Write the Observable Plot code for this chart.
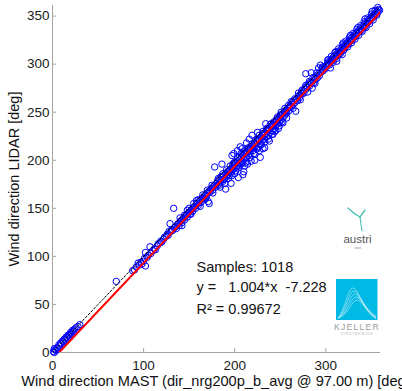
<!DOCTYPE html>
<html><head><meta charset="utf-8">
<script src="https://cdn.jsdelivr.net/npm/d3@7"></script>
<script src="https://cdn.jsdelivr.net/npm/@observablehq/plot@0.6"></script>
<style>
html,body{margin:0;padding:0;background:#fff;}
#wrap{position:relative;width:402px;height:391px;overflow:hidden;}
#logos{position:absolute;left:0;top:0;pointer-events:none;}
</style></head><body><div id="wrap"></div>
<script>
// Axis setup
const xDomain = [0, 360];
const yDomain = [0, 361];
const xTicks = [0, 100, 200, 300];
const yTicks = [0, 50, 100, 150, 200, 250, 300, 350];
const xLabel = "Wind direction MAST (dir_nrg200p_b_avg @ 97.00 m) [deg]";
const yLabel = "Wind direction LIDAR [deg]";

// Regression (from the annotation)
const fitSlope = 1.004;
const fitIntercept = -7.228;
const lineX = [0, 360];
const statLines = ["Samples: 1018", "y =\u00a0\u00a0\u00a01.004*x\u00a0\u00a0-7.228", "R\u00b2 = 0.99672"];

// Samples: [MAST, LIDAR]
const samples = [
[1,1],[2,0],[3,3],[2,4],[4,2],[5,5],[6,4],[7,8],[8,7],[9,10],[10,9],[11,12],[12,11],[13,14],[14,13],[15,16],[16,15],[17,18],[18,17],[19,19],[20,21],[21,20],[22,23],[23,22],[24,24],[26,26],[28,27],[30,29],
[70,74],
[88,85],[90,86],[92,89],[94,93],[95,91],[97,94],[98,92],[100,95],[101,98],[102,90],[102,104],[104,99],[105,101],[107,110],[108,103],[110,106],[112,108],[113,107],[115,111],[116,113],[118,114],[119,116],[120,115],[122,118],[123,120],[125,121],[126,123],[127,122],[129,134],[128,126],[130,126],
[131,128],[132,127],[133,150],[134,130],[135,131],[136,129],[137,133],[138,134],[139,132],[140,136],[141,137],[142,135],[143,139],[144,140],[145,138],[146,142],[147,143],[148,141],[149,145],[150,146],[151,144],[152,148],[153,149],[154,147],[155,151],[156,152],[157,150],[158,154],[159,155],[160,153],[161,157],[162,158],[163,156],[164,160],[165,161],[166,159],[167,163],[168,164],[169,162],[170,166],[171,157],[172,155],[172,168],[173,167],[174,170],[175,171],[176,169],[177,173],[178,174],[178,193],[179,172],[180,176],
[140,140],[145,143],[150,150],[155,155],[160,159],[165,164],[170,169],[175,174],[142,132],[152,144],[162,152],[168,160],[176,166],[148,148],[158,158],
[181,178],[182,175],[183,180],[184,177],[185,179],[186,183],[187,178],[188,184],[189,181],[190,170],[190,186],[191,183],[192,185],[193,188],[194,184],[195,190],[196,187],[197,205],[197,189],[198,193],[199,191],[200,195],[200,186],[201,197],[202,193],[203,199],[204,192],[205,200],[206,196],[207,203],[208,199],[209,185],[209,205],[210,188],[210,201],[211,207],[212,203],[213,198],[214,209],[215,205],[216,210],[217,207],[218,199],[219,213],[220,210],[221,214],[222,206],[223,217],[224,213],[225,219],[226,214],[227,221],[228,203],[228,217],[229,223],[230,220],[231,212],[232,226],[233,222],[234,228],[235,224],[236,230],[237,226],[238,233],[239,229],[240,234],[241,231],[242,237],[243,233],[244,239],[245,236],[246,241],[247,238],[248,233],[248,243],[249,240],[250,245],[251,242],[252,248],[253,244],[254,250],[255,247],[256,252],[257,249],[258,254],[259,251],[260,255],
[185,183],[192,188],[198,196],[203,195],[207,197],[212,209],[217,212],[222,218],[226,222],[231,228],[236,233],[241,236],[246,243],[251,247],[256,250],[188,180],[194,189],[200,198],[205,203],[210,206],[215,212],[220,215],[225,222],[230,226],[235,231],[240,238],[245,240],[250,247],[255,251],[196,176],[204,182],[214,196],[222,200],[238,220],[242,227],[186,196],[199,207],[206,214],[213,218],[225,229],[234,238],
[182,181],[184,172],[187,186],[189,176],[191,190],[193,181],[195,194],[197,184],[199,197],[201,189],[203,203],[205,194],[207,207],[209,197],[211,210],[213,203],[215,213],[217,203],[219,217],[221,207],[223,221],[225,212],[227,226],[229,216],[231,230],[233,219],[235,233],[237,222],[239,237],[241,227],[243,240],[245,231],[247,245],[249,236],[251,250],[253,239],[255,254],[257,244],[259,257],[183,174],[216,222],[219,226],[227,210],[233,213],[208,212],[211,194],[203,210],[244,230],[252,240],
[261,257],[262,256],[263,260],[264,258],[265,262],[266,260],[267,251],[268,264],[269,262],[270,267],[271,265],[272,268],[273,270],[274,269],[275,272],[276,270],[277,275],[278,290],[278,274],[279,277],[280,276],[281,279],[282,277],[283,281],[284,280],[285,275],[286,283],[287,281],[288,286],[289,284],[290,288],[291,286],[292,290],[293,288],[294,299],[295,292],[296,295],[297,293],[298,297],[299,295],[300,298],
[262,261],[266,264],[270,270],[274,273],[278,278],[282,282],[286,286],[290,291],[264,254],[272,263],[280,271],[288,280],[296,297],[284,291],[292,296],
[301,299],[302,301],[303,300],[304,303],[305,302],[306,305],[307,304],[308,307],[309,305],[310,309],[311,308],[312,311],[313,309],[314,313],[315,312],[316,315],[317,313],[318,317],[319,316],[320,319],[321,317],[322,321],[323,320],[324,323],[325,321],[326,325],[327,324],[328,327],[329,325],[330,329],[331,328],[332,331],[333,329],[334,333],[335,332],[336,335],[337,334],[338,337],[339,335],[340,339],[341,338],[342,341],[343,339],[344,343],[345,342],[346,345],[347,344],[348,347],[349,346],[350,349],[351,348],[352,351],[353,350],[354,353],[355,352],[356,355],[357,354],[358,357],[359,356],
[305,296],[312,303],[318,310],
[302,304],[306,308],[310,312],[314,316],[318,320],[322,324],[326,328],[330,332],[334,336],[338,340],[342,344],[346,348],[350,352],[354,356],[357,359],[304,299],[308,302],[312,306],[316,311],[320,315],[324,318],[328,322],[332,326],[336,330],[340,334],[344,338],[348,342],[352,346],[356,351],[303,305],[311,313],[319,322],[327,330],[335,338],[343,347],[351,355]
];

const W = 402, H = 391, mL = 52, mR = 22, mT = 5, mB = 39;
const plotW = W - mL - mR, plotH = H - mT - mB;
const font = "'Liberation Sans', Arial, Helvetica, sans-serif";
const axisGray = "#a3a3a3";

const chart = Plot.plot({
  width: W, height: H,
  marginLeft: mL, marginRight: mR, marginTop: mT, marginBottom: mB,
  style: {fontFamily: font, fontSize: "13.5px", color: "#1a1a1a", background: "#fff", overflow: "visible"},
  x: {domain: xDomain},
  y: {domain: yDomain},
  marks: [
    Plot.ruleX([0], {stroke: axisGray}),
    Plot.ruleY([0], {stroke: axisGray}),
    Plot.tickX(xTicks, {x: d => d, insetTop: plotH - 4, stroke: axisGray}),
    Plot.tickY(yTicks, {y: d => d, insetRight: plotW - 4, stroke: axisGray}),
    Plot.axisX(xTicks, {tickSize: 0, tickPadding: 8, label: null, fill: "#1a1a1a"}),
    Plot.axisY(yTicks, {tickSize: 0, tickPadding: 3, label: null, fill: "#1a1a1a"}),
    Plot.dot(samples, {x: d => d[0], y: d => d[1], r: 3.2, stroke: "#0000ff", strokeWidth: 1, fill: "none"}),
    Plot.line(lineX, {x: d => d, y: d => fitSlope * d + fitIntercept, stroke: "#ff0000", strokeWidth: 2, clip: true}),
    Plot.line(lineX, {x: d => d, y: d => d, stroke: "#000", strokeWidth: 1, strokeDasharray: "2,2", clip: true}),
    ...statLines.map((s, i) => Plot.text([s], {text: d => d, frameAnchor: "top-left", textAnchor: "start", lineAnchor: "bottom", dx: 144, dy: [266.7, 286.7, 308.5][i], fontSize: 14.5, fill: "#111"})),
    Plot.text([xLabel], {text: d => d, frameAnchor: "bottom", textAnchor: "middle", lineAnchor: "bottom", dx: -1, dy: 33, fontSize: 14.6, fill: "#111"}),
    Plot.text([yLabel], {text: d => d, frameAnchor: "left", rotate: -90, textAnchor: "middle", lineAnchor: "middle", dx: -38, fontSize: 14.5, fill: "#111"})
  ]
});
const wrap = document.getElementById("wrap");
wrap.appendChild(chart);

// Decorative logos (overlay)
wrap.insertAdjacentHTML("beforeend", `
<svg id="logos" width="402" height="391" xmlns="http://www.w3.org/2000/svg">
  <g fill="none" stroke="#45bfae" stroke-linecap="round">
    <path d="M348 208 Q354 214 360 217" stroke-width="1.3"/>
    <path d="M365 210 Q362 214 360 217" stroke-width="1.3"/>
    <path d="M360 217 Q361 224 362 231" stroke-width="1.1"/>
  </g>
  <text x="357.5" y="243" text-anchor="middle" font-family="${font}" font-size="11.5" fill="#555">austri</text>
  <text x="357.5" y="248.5" text-anchor="middle" font-family="${font}" font-size="3" fill="#888">wind</text>
  <rect x="336" y="279" width="41.5" height="41" fill="#00b9e4"/>
  <g fill="none" stroke="#ffffff" stroke-width="0.5" opacity="0.9">
    <path d="M338 318 C344 312 348 288 353 288 C358 288 362 308 376 316"/>
    <path d="M338 318 C345 313 349 291 354 291 C359 291 363 309 376 317"/>
    <path d="M338 318 C346 314 350 294 355 294 C360 294 364 310 376 318"/>
    <path d="M338 318 C347 315 351 297 356 297 C361 297 365 311 376 318.5"/>
    <path d="M338 318 C348 316 352 300 357 300 C362 300 366 312 376 319"/>
  </g>
  <text x="357" y="330" text-anchor="middle" font-family="${font}" font-size="8.5" letter-spacing="1.3" fill="#9a9a9a">KJELLER</text>
  <text x="357" y="335" text-anchor="middle" font-family="${font}" font-size="3.5" letter-spacing="0.9" fill="#b0b0b0">VINDTEKNIKK</text>
</svg>`);
</script></body></html>
